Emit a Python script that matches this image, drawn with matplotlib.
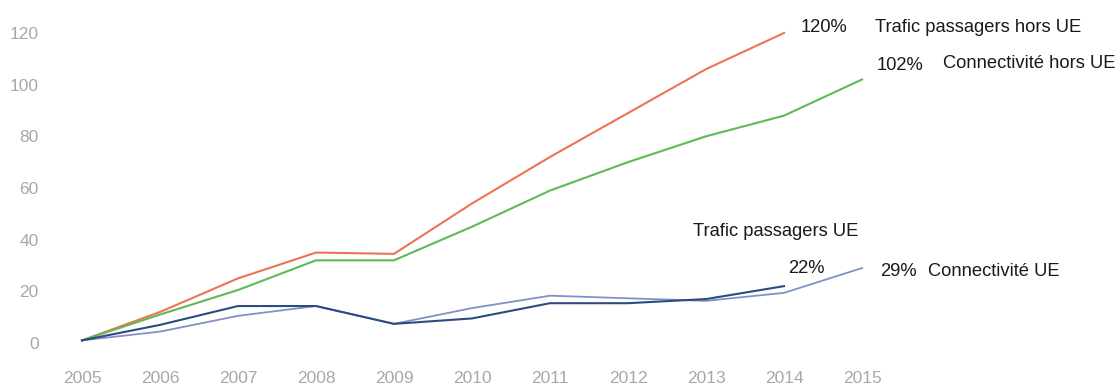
import matplotlib
matplotlib.use("Agg")
import matplotlib.pyplot as plt

years = [2005, 2006, 2007, 2008, 2009, 2010, 2011, 2012, 2013, 2014, 2015]

trafic_hors_ue = [1, 12, 25, 35, 34.5, 54, 72, 89, 106, 120]
connect_hors_ue = [1, 11, 20.5, 32, 32, 45, 59, 70, 80, 88, 102]
trafic_ue = [1, 7, 14.3, 14.3, 7.4, 9.5, 15.4, 15.4, 17, 22]
connect_ue = [1, 4.4, 10.5, 14.3, 7.4, 13.5, 18.3, 17.3, 16.3, 19.4, 29]

ytick_values = [0, 20, 40, 60, 80, 100, 120]

c_orange = "#ec7451"
c_green = "#5dba55"
c_dark = "#2c4b82"
c_light = "#8390c8"

plt.rcParams["font.family"] = ["Liberation Sans", "DejaVu Sans"]

fig = plt.figure(figsize=(11.19, 3.85), dpi=100)
ax = fig.add_axes([43 / 1119, 0.0756, 858 / 1119, 0.8723])
ax.set_xlim(2004.5, 2015.5)
ax.set_ylim(-5, 125)

ax.plot(years[:len(trafic_hors_ue)], trafic_hors_ue, color=c_orange, lw=1.5)
ax.plot(years[:len(connect_hors_ue)], connect_hors_ue, color=c_green, lw=1.5)
ax.plot(years[:len(connect_ue)], connect_ue, color=c_light, lw=1.3)
ax.plot(years[:len(trafic_ue)], trafic_ue, color=c_dark, lw=1.5)

for s in ax.spines.values():
    s.set_visible(False)
ax.set_xticks(years)
ax.set_xticklabels([str(y) for y in years])
ax.set_yticks(ytick_values)
ax.tick_params(axis="both", length=0, colors="#a8a8a8", labelsize=12.5)
ax.tick_params(axis="x", pad=11)
ax.tick_params(axis="y", pad=3)

txt = dict(fontsize=13.2, color="#1a1a1a", va="center", clip_on=False)
ax.text(2014.21, 122, f"{trafic_hors_ue[-1]:.0f}%", ha="left", **txt)
ax.text(2015.17, 122.3, "Trafic passagers hors UE", ha="left", **txt)
ax.text(2015.19, 107.6, f"{connect_hors_ue[-1]:.0f}%", ha="left", **txt)
ax.text(2016.04, 108, "Connectivité hors UE", ha="left", **txt)
ax.text(2012.83, 43, "Trafic passagers UE", ha="left", **txt)
ax.text(2014.05, 29, f"{trafic_ue[-1]:.0f}%", ha="left", **txt)
ax.text(2015.23, 27.6, f"{connect_ue[-1]:.0f}%", ha="left", **txt)
ax.text(2015.85, 27.5, "Connectivité UE", ha="left", **txt)

fig.savefig("out.png", dpi=100)
